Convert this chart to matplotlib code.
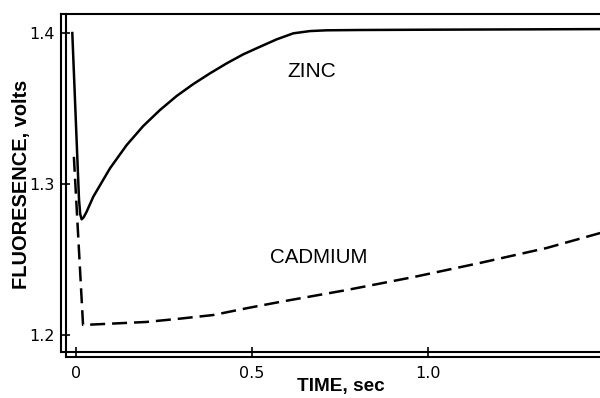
import matplotlib
matplotlib.use("Agg")
import matplotlib.pyplot as plt
from matplotlib.lines import Line2D
from matplotlib import font_manager

plt.rcParams['lines.scale_dashes'] = False

# Zinc fluorescence trace (time in s, volts)
zinc_t = [-0.0105, 0.0085, 0.012, 0.0161, 0.022, 0.0303, 0.0492, 0.0966, 0.144,
          0.191, 0.2386, 0.286, 0.3333, 0.3807, 0.428, 0.4753, 0.5227, 0.570,
          0.6174, 0.665, 0.712, 0.807, 1.0, 1.25, 1.49]
zinc_v = [1.400, 1.290, 1.280, 1.2766, 1.2780, 1.2817, 1.2916, 1.3104, 1.3258,
          1.3384, 1.3490, 1.3583, 1.3662, 1.3733, 1.3799, 1.3859, 1.3909, 1.3958,
          1.3998, 1.4013, 1.4018, 1.4020, 1.4022, 1.4024, 1.4026]

# Cadmium fluorescence trace
cad_t = [-0.006, 0.020, 0.20, 0.2955, 0.39, 0.485, 0.58, 0.77, 0.96, 1.148,
         1.337, 1.489]
cad_v = [1.318, 1.2066, 1.2086, 1.2108, 1.2132, 1.2177, 1.2219, 1.2298, 1.2384,
         1.2477, 1.2576, 1.2675]

x_ticks = [0.0, 0.5, 1.0]
x_labels = ["0", "0.5", "1.0"]
y_ticks = [1.2, 1.3, 1.4]
y_labels = ["1.2", "1.3", "1.4"]

# condensed sans for the lettering, with a regular sans as fallback
installed = {f.name for f in font_manager.fontManager.ttflist}
if "Liberation Sans Narrow" in installed:
    fam, k = "Liberation Sans Narrow", 1 / 0.82
else:
    fam, k = "Liberation Sans", 1.0

W, H = 600, 398
fig = plt.figure(figsize=(W / 100, H / 100), dpi=100)
left, right, top, bottom = 61, 600, 14, 352
ax = fig.add_axes([left / W, 1 - bottom / H, (right - left) / W, (bottom - top) / H])
ax.set_xlim(-0.0426, 1.4886)
ax.set_ylim(1.1887, 1.4126)

lw = 1.8
ax.plot(zinc_t, zinc_v, color="black", lw=lw, solid_joinstyle="round", clip_on=False)
ax.plot(cad_t, cad_v, color="black", lw=lw, linestyle=(0, (10.8, 5.0)), clip_on=False)

ax.text(0.670, 1.3709, "ZINC", fontsize=15 * k, family=fam, ha="center", va="baseline")
ax.text(0.690, 1.2477, "CADMIUM", fontsize=14.8 * k, family=fam, ha="center", va="baseline")

for s in ("left", "bottom", "top"):
    ax.spines[s].set_linewidth(1.5)
ax.spines["right"].set_visible(False)

# second, offset pair of axis lines
ax.add_line(Line2D([66 / W, 66 / W], [1 - top / H, 1 - 357 / H], transform=fig.transFigure,
                   color="black", lw=1.5, clip_on=False))
ax.add_line(Line2D([66 / W, 1.0], [1 - 357 / H, 1 - 357 / H], transform=fig.transFigure,
                   color="black", lw=1.5, clip_on=False))

ax.set_xticks(x_ticks, x_labels)
ax.set_yticks(y_ticks, y_labels)
ax.tick_params(axis="x", direction="inout", length=7.5, width=1.2, pad=6, labelsize=11.5)
ax.tick_params(axis="y", direction="in", length=6.5, width=1.2, pad=4.5, labelsize=11.5)

ax.set_xlabel("TIME, sec", fontsize=13.7 * k, family=fam, fontweight="bold")
ax.xaxis.set_label_coords(0.519, -0.077)
ax.set_ylabel("FLUORESENCE, volts", fontsize=14.4 * k, family=fam, fontweight="bold")
ax.yaxis.set_label_coords(-0.0724, 0.497)
ax.yaxis.label.set_va("center")

fig.savefig("out.png", dpi=100)
